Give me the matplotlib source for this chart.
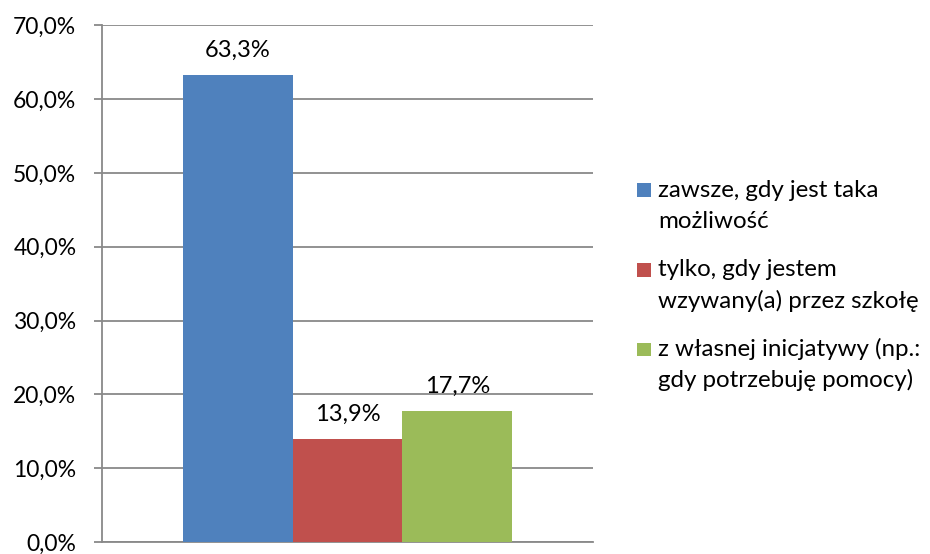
import matplotlib
matplotlib.use("Agg")
import matplotlib.pyplot as plt
from matplotlib.patches import Rectangle

categories = ["zawsze, gdy jest taka\nmożliwość",
              "tylko, gdy jestem\nwzywany(a) przez szkołę",
              "z własnej inicjatywy (np.:\ngdy potrzebuję pomocy)"]
values = [63.3, 13.9, 17.7]
colors = ["#4F81BD", "#C0504D", "#9BBB59"]
yticks = [0, 10, 20, 30, 40, 50, 60, 70]

plt.rcParams['font.family'] = ['Lato', 'DejaVu Sans']

W, H = 930, 554
fig = plt.figure(figsize=(W/100, H/100), dpi=100)
ax = fig.add_axes([101.5/W, 1-542/H, (593-101.5)/W, (542-25.4)/H])

xs = [-1, 0, 1]
for x, v, c in zip(xs, values, colors):
    ax.bar(x, v, width=1.0, color=c, zorder=3)
    ax.text(x, v + 2.45, f"{v:.1f}%".replace(".", ","), ha="center", va="baseline",
            fontsize=17, color="black", zorder=4)

ax.set_xlim(-2.243, 2.238)
ax.set_ylim(0, 70)
ax.set_yticks(yticks)
ax.set_yticklabels([f"{t:.1f}%".replace(".", ",") for t in yticks], fontsize=16.5)
ax.set_xticks([])
ax.yaxis.grid(True, color="#898989", linewidth=1.3, zorder=0)
for s in ["top", "right"]:
    ax.spines[s].set_visible(False)
for s in ["left", "bottom"]:
    ax.spines[s].set_color("#898989")
    ax.spines[s].set_linewidth(1.3)
ax.tick_params(axis="y", length=6.1, color="#898989", width=1.3, pad=12)

# legend (drawn manually, first line aligned with the square)
def px(x, y):
    return x / W, 1 - y / H

for i, (label, c) in enumerate(zip(categories, colors)):
    base = 197 + i * 79.5
    x0, y0 = px(637, base)
    fig.patches.append(Rectangle((x0, y0), 14/W, 13.5/H, transform=fig.transFigure,
                                 facecolor=c, edgecolor="none"))
    for j, line in enumerate(label.split("\n")):
        tx, ty = px(658, base + j * 31)
        fig.text(tx, ty, line, ha="left", va="baseline", fontsize=17.4, color="black")

fig.savefig("out.png", dpi=100)
